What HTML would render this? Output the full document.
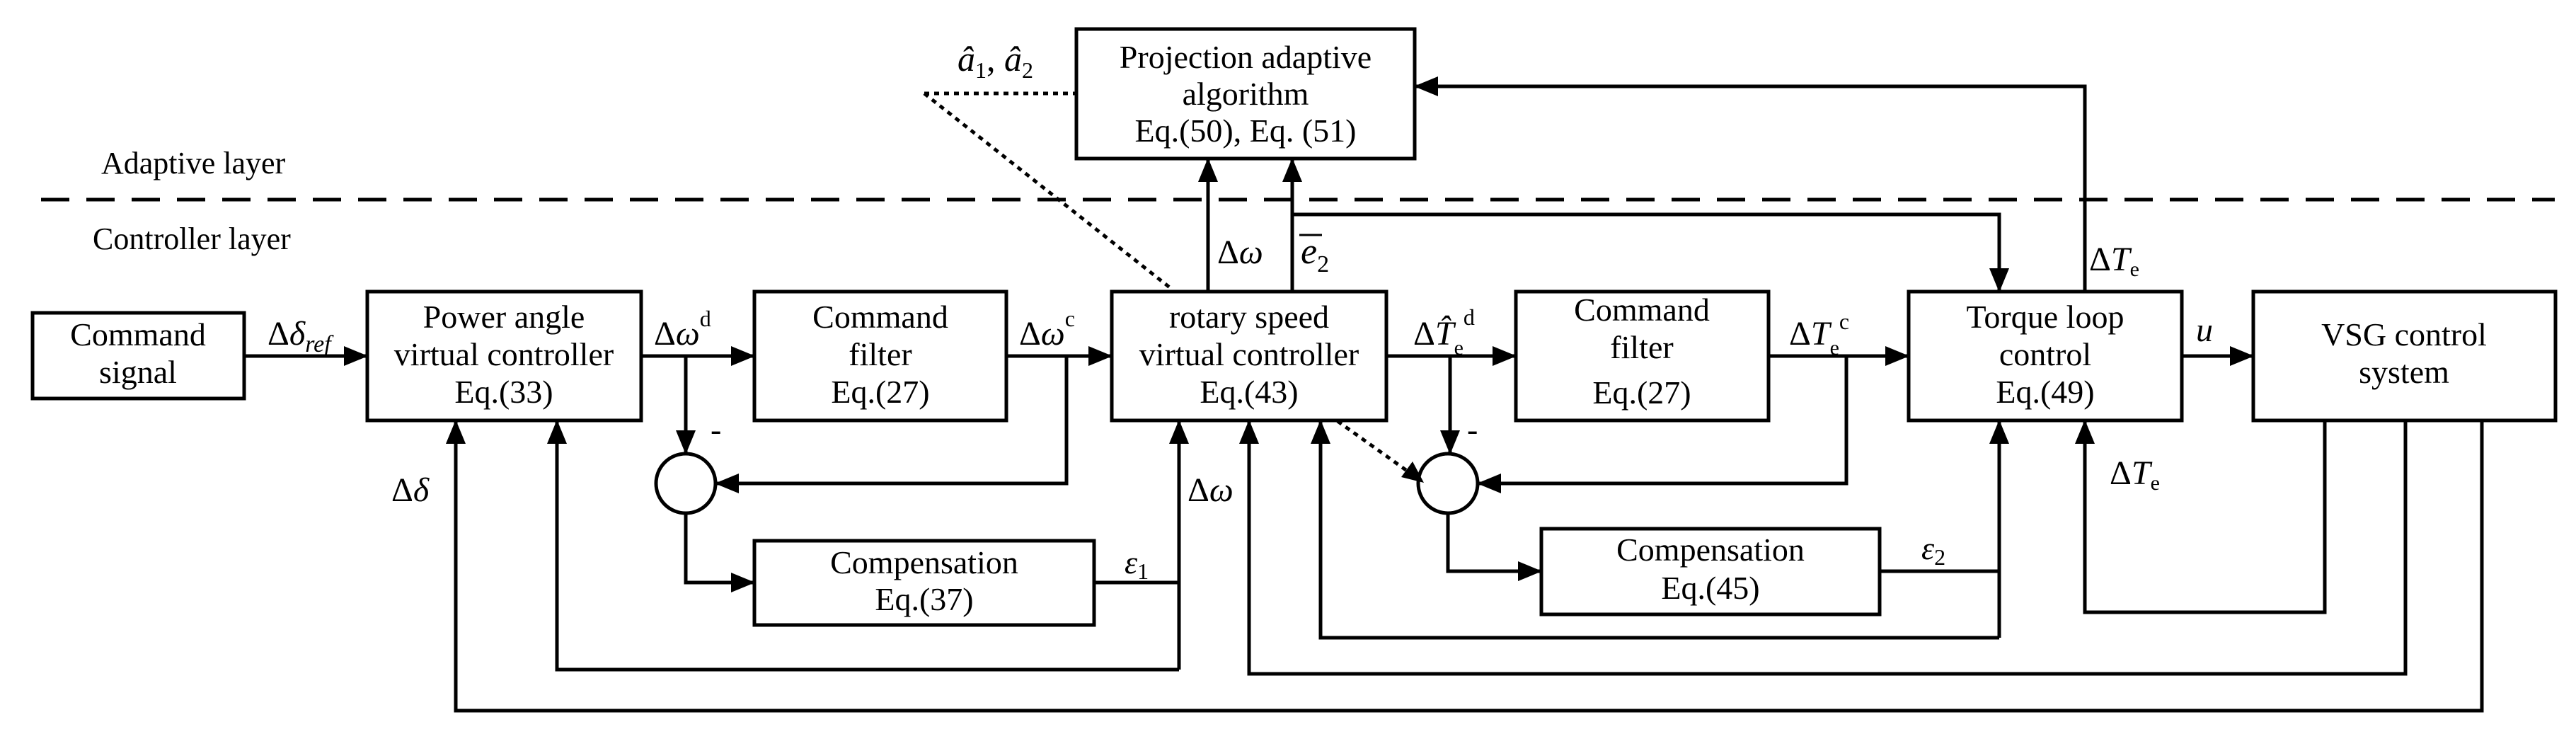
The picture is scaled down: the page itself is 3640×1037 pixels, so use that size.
<!DOCTYPE html>
<html><head><meta charset="utf-8"><style>
html,body{margin:0;padding:0;background:#fff}
svg{display:block}
svg text, svg tspan{font-family:"Liberation Serif","DejaVu Serif",serif}
text{fill:#000}
.b{font-size:46px;text-anchor:middle}
.i{font-style:italic}
</style></head><body>
<svg width="3640" height="1037" viewBox="0 0 3640 1037" xmlns="http://www.w3.org/2000/svg" font-family="Liberation Serif, DejaVu Serif, serif">
<defs>
<marker id="a" markerWidth="34" markerHeight="28" refX="33" refY="14" orient="auto" markerUnits="userSpaceOnUse"><path d="M0,0 L34,14 L0,28 z" fill="#000"/></marker>
</defs>
<g fill="none" stroke="#000" stroke-width="5">
<line x1="58" y1="282" x2="3610" y2="282" stroke-dasharray="40,24"/>
<rect x="46" y="442" width="299" height="121"/>
<rect x="519" y="412" width="387" height="182"/>
<rect x="1066" y="412" width="356" height="182"/>
<rect x="1571" y="412" width="388" height="182"/>
<rect x="1521" y="41" width="478" height="183"/>
<rect x="2142" y="412" width="357" height="182"/>
<rect x="2697" y="412" width="386" height="182"/>
<rect x="3184" y="412" width="427" height="182"/>
<rect x="1066" y="764" width="480" height="119"/>
<rect x="2178" y="747" width="478" height="121"/>
<circle cx="969" cy="683" r="42"/>
<circle cx="2046" cy="683" r="42"/>
<g marker-end="url(#a)">
<line x1="345" y1="503" x2="519" y2="503"/>
<line x1="906" y1="503" x2="1066" y2="503"/>
<line x1="1422" y1="503" x2="1571" y2="503"/>
<line x1="1959" y1="503" x2="2142" y2="503"/>
<line x1="2499" y1="503" x2="2697" y2="503"/>
<line x1="3083" y1="503" x2="3184" y2="503"/>
<line x1="969" y1="503" x2="969" y2="641"/>
<polyline points="1507,503 1507,683 1011,683"/>
<polyline points="969,725 969,823 1066,823"/>
<line x1="1666" y1="946" x2="1666" y2="594"/>
<polyline points="1666,946 787,946 787,594"/>
<polyline points="3507,594 3507,1004 644,1004 644,594"/>
<polyline points="3399,594 3399,952 1765,952 1765,594"/>
<line x1="1707" y1="412" x2="1707" y2="224"/>
<line x1="1826" y1="412" x2="1826" y2="224"/>
<polyline points="1826,303 2825,303 2825,412"/>
<polyline points="2946,412 2946,122 1999,122"/>
<line x1="2049" y1="503" x2="2049" y2="641"/>
<polyline points="2609,503 2609,683 2088,683"/>
<polyline points="2046,725 2046,807 2178,807"/>
<line x1="2825" y1="901" x2="2825" y2="594"/>
<polyline points="2825,901 1866,901 1866,594"/>
<polyline points="3285,594 3285,865 2946,865 2946,594"/>
</g>
<line x1="1546" y1="823" x2="1666" y2="823"/>
<line x1="2656" y1="807" x2="2825" y2="807"/>
<g stroke-dasharray="7,7">
<line x1="1306" y1="132" x2="1521" y2="132"/>
<line x1="1306" y1="132" x2="1654" y2="407"/>
<line x1="1890" y1="595" x2="1995" y2="670"/>
</g>
</g>
<path d="M2012,682 L1980,674 L1996,652 z" fill="#000"/>
<text class="b" x="195" y="488">Command</text>
<text class="b" x="195" y="541">signal</text>
<text class="b" x="712" y="463">Power angle</text>
<text class="b" x="712" y="516">virtual controller</text>
<text class="b" x="712" y="569">Eq.(33)</text>
<text class="b" x="1244" y="463">Command</text>
<text class="b" x="1244" y="516">filter</text>
<text class="b" x="1244" y="569">Eq.(27)</text>
<text class="b" x="1765" y="463">rotary speed</text>
<text class="b" x="1765" y="516">virtual controller</text>
<text class="b" x="1765" y="569">Eq.(43)</text>
<text class="b" x="1760" y="96">Projection adaptive</text>
<text class="b" x="1760" y="148">algorithm</text>
<text class="b" x="1760" y="200">Eq.(50), Eq. (51)</text>
<text class="b" x="2320" y="453">Command</text>
<text class="b" x="2320" y="506">filter</text>
<text class="b" x="2320" y="570">Eq.(27)</text>
<text class="b" x="2890" y="463">Torque loop</text>
<text class="b" x="2890" y="516">control</text>
<text class="b" x="2890" y="569">Eq.(49)</text>
<text class="b" x="3397" y="488">VSG control</text>
<text class="b" x="3397" y="541">system</text>
<text class="b" x="1306" y="810">Compensation</text>
<text class="b" x="1306" y="862">Eq.(37)</text>
<text class="b" x="2417" y="792">Compensation</text>
<text class="b" x="2417" y="846">Eq.(45)</text>
<text x="143" y="245" font-size="44">Adaptive layer</text>
<text x="131" y="352" font-size="44">Controller layer</text>
<text x="378" y="487" font-size="48">Δ<tspan class="i">δ</tspan><tspan class="i" font-size="34" dy="10">ref</tspan></text>
<text x="924" y="487" font-size="48">Δ<tspan class="i">ω</tspan><tspan font-size="32" dy="-26">d</tspan></text>
<text x="1440" y="487" font-size="48">Δ<tspan class="i">ω</tspan><tspan font-size="32" dy="-26">c</tspan></text>
<text x="1004" y="622" font-size="46">-</text>
<text x="2073" y="622" font-size="46">-</text>
<text x="553" y="708" font-size="48">Δ<tspan class="i">δ</tspan></text>
<text x="1678" y="708" font-size="48">Δ<tspan class="i">ω</tspan></text>
<text x="1589" y="810" font-size="46" class="i">ε<tspan font-size="32" dy="8" font-style="normal">1</tspan></text>
<text x="2715" y="790" font-size="46" class="i">ε<tspan font-size="32" dy="8" font-style="normal">2</tspan></text>
<text x="1720" y="372" font-size="48">Δ<tspan class="i">ω</tspan></text>
<text x="1838" y="372" font-size="52" class="i">e<tspan font-size="34" dy="12" font-style="normal">2</tspan></text>
<line x1="1836" y1="332" x2="1868" y2="332" stroke="#000" stroke-width="3"/>
<text x="1353" y="100" font-size="50" class="i">â<tspan font-size="32" dy="10" font-style="normal">1</tspan><tspan dy="-10" font-style="normal">, </tspan>â<tspan font-size="32" dy="10" font-style="normal">2</tspan></text>
<text x="1997" y="487" font-size="48">Δ<tspan class="i">T̂</tspan><tspan font-size="30" dy="14">e</tspan><tspan font-size="32" dy="-42">d</tspan></text>
<text x="2528" y="487" font-size="48">Δ<tspan class="i">T</tspan><tspan font-size="30" dy="14">e</tspan><tspan font-size="32" dy="-36">c</tspan></text>
<text x="2952" y="382" font-size="48">Δ<tspan class="i">T</tspan><tspan font-size="30" dy="8">e</tspan></text>
<text x="2981" y="684" font-size="48">Δ<tspan class="i">T</tspan><tspan font-size="30" dy="8">e</tspan></text>
<text x="3103" y="482" font-size="48" class="i">u</text>
</svg>
</body></html>
